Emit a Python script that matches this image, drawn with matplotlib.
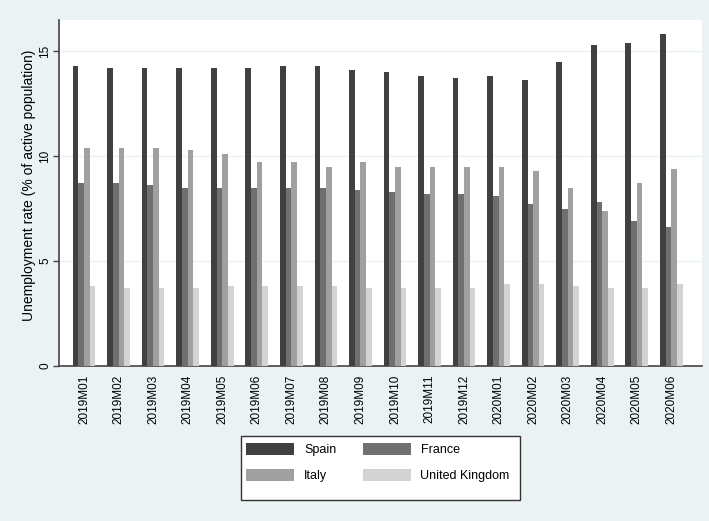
import numpy as np
import matplotlib.pyplot as plt
from matplotlib.patches import Rectangle

plt.rcParams['font.family'] = ['Liberation Sans', 'DejaVu Sans']

months = ['2019M01', '2019M02', '2019M03', '2019M04', '2019M05', '2019M06',
          '2019M07', '2019M08', '2019M09', '2019M10', '2019M11', '2019M12',
          '2020M01', '2020M02', '2020M03', '2020M04', '2020M05', '2020M06']
spain = [14.3, 14.2, 14.2, 14.2, 14.2, 14.2, 14.3, 14.3, 14.1, 14.0, 13.8, 13.7,
         13.8, 13.6, 14.5, 15.3, 15.4, 15.8]
france = [8.7, 8.7, 8.6, 8.5, 8.5, 8.5, 8.5, 8.5, 8.4, 8.3, 8.2, 8.2,
          8.1, 7.7, 7.5, 7.8, 6.9, 6.6]
italy = [10.4, 10.4, 10.4, 10.3, 10.1, 9.7, 9.7, 9.5, 9.7, 9.5, 9.5, 9.5,
         9.5, 9.3, 8.5, 7.4, 8.7, 9.4]
uk = [3.8, 3.7, 3.7, 3.7, 3.8, 3.8, 3.8, 3.8, 3.7, 3.7, 3.7, 3.7,
      3.9, 3.9, 3.8, 3.7, 3.7, 3.9]

countries = ['Spain', 'France', 'Italy', 'United Kingdom']
series = [spain, france, italy, uk]
colors = ['#404040', '#6f6f6f', '#a0a0a0', '#d3d3d3']

bg = '#eaf2f3'
fig = plt.figure(figsize=(7.09, 5.21), dpi=100, facecolor=bg)
ax = fig.add_axes([59 / 709, 1 - 366 / 521, (702 - 59) / 709, (366 - 20) / 521])
ax.set_facecolor('white')

x = np.arange(len(months))
w = 0.164
bars = []
for k, (vals, c) in enumerate(zip(series, colors)):
    b = ax.bar(x + (k - 1.5) * w, vals, width=w, color=c, linewidth=0, zorder=3)
    bars.append(b)

ax.set_xlim(-0.725, 17.887)
ax.set_ylim(0, 16.48)
ax.set_yticks([0, 5, 10, 15])
ax.set_yticklabels(['0', '5', '10', '15'], rotation=90, va='center', fontsize=8.5)
ax.set_xticks(x)
ax.set_xticklabels(months, rotation=90, fontsize=8.5)
ax.tick_params(axis='x', length=0, pad=6)
ax.tick_params(axis='y', length=4, width=1, color='#444444', pad=1.5)
ax.grid(axis='y', color=bg, linewidth=1, zorder=0)

for s in ['top', 'right']:
    ax.spines[s].set_visible(False)
for s in ['left', 'bottom']:
    ax.spines[s].set_color('#444444')
    ax.spines[s].set_linewidth(1.2)

fig.text(29 / 709, 1 - 185 / 521, 'Unemployment rate (% of active population)',
         rotation=90, ha='center', va='center', fontsize=10)

# legend: two columns, Spain/France on top row, Italy/UK below
order = [0, 2, 1, 3]
fig.legend([bars[i] for i in order], [countries[i] for i in order],
           ncol=2, loc='upper left', bbox_to_anchor=(246 / 709, 1 - 443 / 521),
           frameon=False, fontsize=9, borderpad=0, borderaxespad=0,
           handlelength=3.84, handleheight=1.12, handletextpad=0.8,
           columnspacing=2.1, labelspacing=1.0)
fig.patches.append(Rectangle((241 / 709, 1 - 500 / 521), 279 / 709, 64 / 521,
                             transform=fig.transFigure, facecolor='white',
                             edgecolor='#333333', linewidth=1, zorder=0))

fig.savefig('out.png', dpi=100, facecolor=bg)
